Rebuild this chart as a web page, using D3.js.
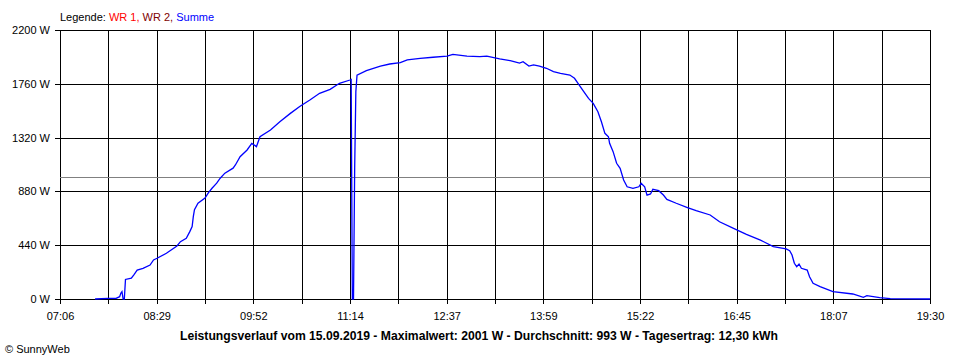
<!DOCTYPE html>
<html>
<head>
<meta charset="utf-8">
<script src="https://cdn.jsdelivr.net/npm/d3@7"></script>
<style>
  body { margin: 0; background: #fff; }
  svg text { font-family: "Liberation Sans", Arial, sans-serif; }
</style>
</head>
<body>
<div id="chart"></div>
<script>
// données (Summe, en W)
const times = ["07:36","07:47","07:54","07:57","07:58","07:59","08:00","08:01","08:02","08:07","08:09","08:12","08:17","08:23","08:26","08:29","08:37","08:46","08:49","08:54","08:57","08:59","09:00","09:01","09:04","09:10","09:13","09:16","09:20","09:23","09:27","09:34","09:36","09:40","09:46","09:50","09:54","09:57","10:06","10:14","10:23","10:31","10:40","10:48","10:57","11:05","11:14","11:15","11:16","11:17","11:18","11:19","11:20","11:28","11:40","11:48","11:57","12:03","12:14","12:25","12:37","12:42","12:54","13:05","13:11","13:22","13:31","13:39","13:42","13:47","13:51","13:56","14:02","14:08","14:14","14:22","14:26","14:29","14:33","14:38","14:42","14:46","14:49","14:52","14:55","14:56","14:59","15:02","15:05","15:08","15:11","15:16","15:21","15:23","15:26","15:28","15:31","15:33","15:38","15:42","15:45","15:53","16:02","16:10","16:22","16:30","16:42","16:53","17:05","17:16","17:27","17:30","17:32","17:34","17:36","17:38","17:40","17:45","17:47","17:50","17:56","18:07","18:24","18:33","18:36","18:47","18:56","19:30"];
const summe = [0,5,5,19,47,60,0,0,160,170,196,237,251,278,319,333,374,434,469,496,551,592,674,730,784,825,870,906,947,988,1029,1070,1096,1164,1219,1273,1246,1327,1382,1450,1518,1575,1630,1682,1715,1764,1791,1795,0,0,1074,1696,1831,1867,1905,1922,1933,1955,1968,1977,1987,2001,1987,1982,1987,1963,1949,1930,1941,1905,1914,1905,1887,1859,1846,1832,1805,1764,1709,1641,1600,1532,1450,1355,1327,1273,1205,1110,1069,973,918,905,918,946,918,850,859,897,886,850,815,783,750,722,687,632,578,529,482,428,410,395,360,292,264,286,251,237,182,128,101,60,41,14,27,11,3,0];

const yTicks = [0, 440, 880, 1320, 1760, 2200];
const xTickLabels = ["07:06", "08:29", "09:52", "11:14", "12:37", "13:59", "15:22", "16:45", "18:07", "19:30"];
const tStart = "07:06", tEnd = "19:30";
const average = 993;
const titleText = "Leistungsverlauf vom 15.09.2019 - Maximalwert: 2001 W - Durchschnitt: 993 W - Tagesertrag: 12,30 kWh";

const width = 960, height = 360;
const mLeft = 60, mRight = 930, mTop = 30, mBottom = 299;

const toMin = s => { const p = s.split(":"); return +p[0] * 60 + +p[1]; };

const svg = d3.select("#chart").append("svg")
    .attr("width", width)
    .attr("height", height);

const x = d3.scaleLinear().domain([toMin(tStart), toMin(tEnd)]).range([mLeft, mRight]);
const y = d3.scaleLinear().domain([0, 2200]).range([mBottom, mTop]);

// 18 intervalles, une étiquette sur deux
const step = (toMin(tEnd) - toMin(tStart)) / 18;
const xTicks = d3.range(19).map(i => toMin(tStart) + i * step);

// grille
svg.append("g")
    .attr("transform", "translate(0," + mBottom + ")")
    .call(d3.axisBottom(x).tickValues(xTicks).tickSize(-(mBottom - mTop)).tickFormat(""))
    .call(g => g.select(".domain").remove())
    .selectAll("line").attr("stroke", "#000").attr("shape-rendering", "crispEdges");

svg.append("g")
    .attr("transform", "translate(" + mLeft + ",0)")
    .call(d3.axisLeft(y).tickValues(yTicks).tickSize(-(mRight - mLeft)).tickFormat(""))
    .call(g => g.select(".domain").remove())
    .selectAll("line").attr("stroke", "#000").attr("shape-rendering", "crispEdges");

// axes
const xAxis = svg.append("g")
    .attr("transform", "translate(0," + mBottom + ")")
    .call(d3.axisBottom(x).tickValues(xTicks).tickSize(5).tickPadding(8)
        .tickFormat((d, i) => i % 2 === 0 ? xTickLabels[i / 2] : ""));
xAxis.select(".domain").remove();
xAxis.selectAll("line").attr("stroke", "#000").attr("shape-rendering", "crispEdges");
xAxis.selectAll("text").attr("font-size", "11px").attr("fill", "#000").style("font-family", "'Liberation Sans', Arial, sans-serif");

const yAxis = svg.append("g")
    .attr("transform", "translate(" + mLeft + ",0)")
    .call(d3.axisLeft(y).tickValues(yTicks).tickSize(5).tickPadding(5).tickFormat(d => d + " W"));
yAxis.select(".domain").remove();
yAxis.selectAll("line").attr("stroke", "#000").attr("shape-rendering", "crispEdges");
yAxis.selectAll("text").attr("font-size", "11px").attr("fill", "#000").style("font-family", "'Liberation Sans', Arial, sans-serif");

// ligne de moyenne
svg.append("line")
    .attr("x1", mLeft).attr("x2", mRight)
    .attr("y1", y(average)).attr("y2", y(average))
    .attr("stroke", "#808080")
    .attr("shape-rendering", "crispEdges");

// courbe Summe
const data = times.map((t, i) => ({ t: toMin(t), v: summe[i] }));
svg.append("path")
    .datum(data)
    .attr("fill", "none")
    .attr("stroke", "#0000ff")
    .attr("stroke-width", 1.3)
    .attr("stroke-linejoin", "miter")
    .attr("d", d3.line().x(d => x(d.t)).y(d => y(d.v)));

// légende
const leg = svg.append("text")
    .attr("x", 60)
    .attr("y", 21)
    .attr("font-size", "11px");
leg.append("tspan").attr("fill", "#000").text("Legende: ");
leg.append("tspan").attr("fill", "#ff0000").text("WR 1, ");
leg.append("tspan").attr("fill", "#800000").text("WR 2, ");
leg.append("tspan").attr("fill", "#0000ff").text("Summe");

// titre
svg.append("text")
    .attr("x", 479)
    .attr("y", 340)
    .attr("text-anchor", "middle")
    .attr("font-size", "12px")
    .attr("font-weight", "bold")
    .attr("textLength", 598)
    .attr("lengthAdjust", "spacingAndGlyphs")
    .text(titleText);

svg.append("text")
    .attr("x", 5)
    .attr("y", 353)
    .attr("font-size", "11px")
    .attr("fill", "#000")
    .text("\u00a9 SunnyWeb");
</script>
</body>
</html>
